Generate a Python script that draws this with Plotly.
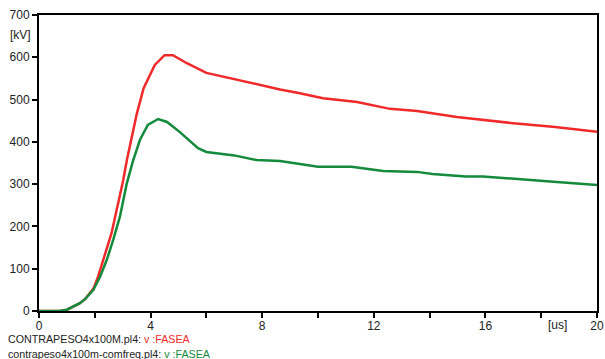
import plotly.graph_objects as go

t_red = [0, 0.75, 1.0, 1.23, 1.45, 1.65, 1.95, 2.1, 2.3, 2.6, 3.02, 3.15, 3.5, 3.75, 4.15, 4.5, 4.8, 5.3, 6.0, 7.0, 7.9, 8.64, 9.35, 10.18, 11.4, 12.58, 13.55, 14.98, 17.0, 18.5, 20]
v_red = [0, 0, 3, 10, 18, 28, 53, 78, 121, 184, 310, 357, 465, 527, 582, 605, 605, 586, 563, 548, 534, 524, 515, 503, 494, 478, 473, 459, 444, 435, 424]

t_green = [0, 0.75, 1.0, 1.23, 1.45, 1.65, 1.95, 2.19, 2.43, 2.66, 2.9, 3.14, 3.37, 3.62, 3.9, 4.27, 4.59, 5.05, 5.7, 6.0, 7.0, 7.8, 8.64, 10.0, 11.2, 12.33, 13.55, 14.1, 15.3, 15.9, 17.35, 18.2, 19.64, 20]
v_green = [0, 0, 3, 10, 18, 28, 50, 81, 121, 168, 223, 300, 355, 405, 440, 454, 447, 423, 385, 376, 368, 357, 355, 341, 341, 331, 329, 324, 318, 318, 310, 307, 300, 298]

x_tickvals = [0, 2, 4, 6, 8, 10, 12, 14, 16, 18, 20]
x_ticktext = ["0", "", "4", "", "8", "", "12", "", "16", "", "20"]
y_tickvals = [0, 100, 200, 300, 400, 500, 600, 700]

RED = "#f02a2a"
GREEN = "#148a3c"
FONT = "Liberation Sans, Arial, sans-serif"

fig = go.Figure()
fig.add_trace(go.Scatter(x=t_red, y=v_red, mode="lines", line=dict(color=RED, width=2.5), showlegend=False))
fig.add_trace(go.Scatter(x=t_green, y=v_green, mode="lines", line=dict(color=GREEN, width=2.5), showlegend=False))

fig.update_layout(
    width=605, height=359,
    margin=dict(l=39, r=8, t=15, b=48, autoexpand=False),
    paper_bgcolor="white", plot_bgcolor="white",
    font=dict(family=FONT, size=12, color="#222"),
    xaxis=dict(range=[0, 20], tickvals=x_tickvals, ticktext=x_ticktext, showgrid=False, zeroline=False,
               showline=True, linecolor="black", linewidth=2, mirror=True, automargin=False,
               ticks="outside", ticklen=5, tickwidth=2, tickcolor="black", tickfont=dict(size=12),
               ticklabelstandoff=-2),
    yaxis=dict(range=[0, 700], tickvals=y_tickvals, showgrid=False, zeroline=False,
               showline=True, linecolor="black", linewidth=2, mirror=True, automargin=False,
               ticks="outside", ticklen=5, tickwidth=2, tickcolor="black", tickfont=dict(size=12)),
)

fig.add_annotation(text="[kV]", x=0, xref="paper", xanchor="right", xshift=-6, y=653, yref="y",
                   showarrow=False, font=dict(size=12, color="#222"))
fig.add_annotation(text="[us]", x=18.57, xref="x", y=0, yref="paper", yanchor="top", yshift=-5,
                   showarrow=False, font=dict(size=12, color="#222"))
fig.add_annotation(text="CONTRAPESO4x100M.pl4: <span style='color:%s'>v :FASEA</span>" % RED,
                   xref="paper", yref="paper", x=-39/558, xanchor="left", xshift=6,
                   y=-(338.5-311)/296, yanchor="middle", showarrow=False, font=dict(size=10.7, color="#222"))
fig.add_annotation(text="contrapeso4x100m-comfreq.pl4: <span style='color:%s'>v :FASEA</span>" % GREEN,
                   xref="paper", yref="paper", x=-39/558, xanchor="left", xshift=6,
                   y=-(353.5-311)/296, yanchor="middle", showarrow=False, font=dict(size=10.7, color="#222"))

fig.write_html("out.html", config={"displayModeBar": False},
               post_script="document.body.style.margin='0';")
